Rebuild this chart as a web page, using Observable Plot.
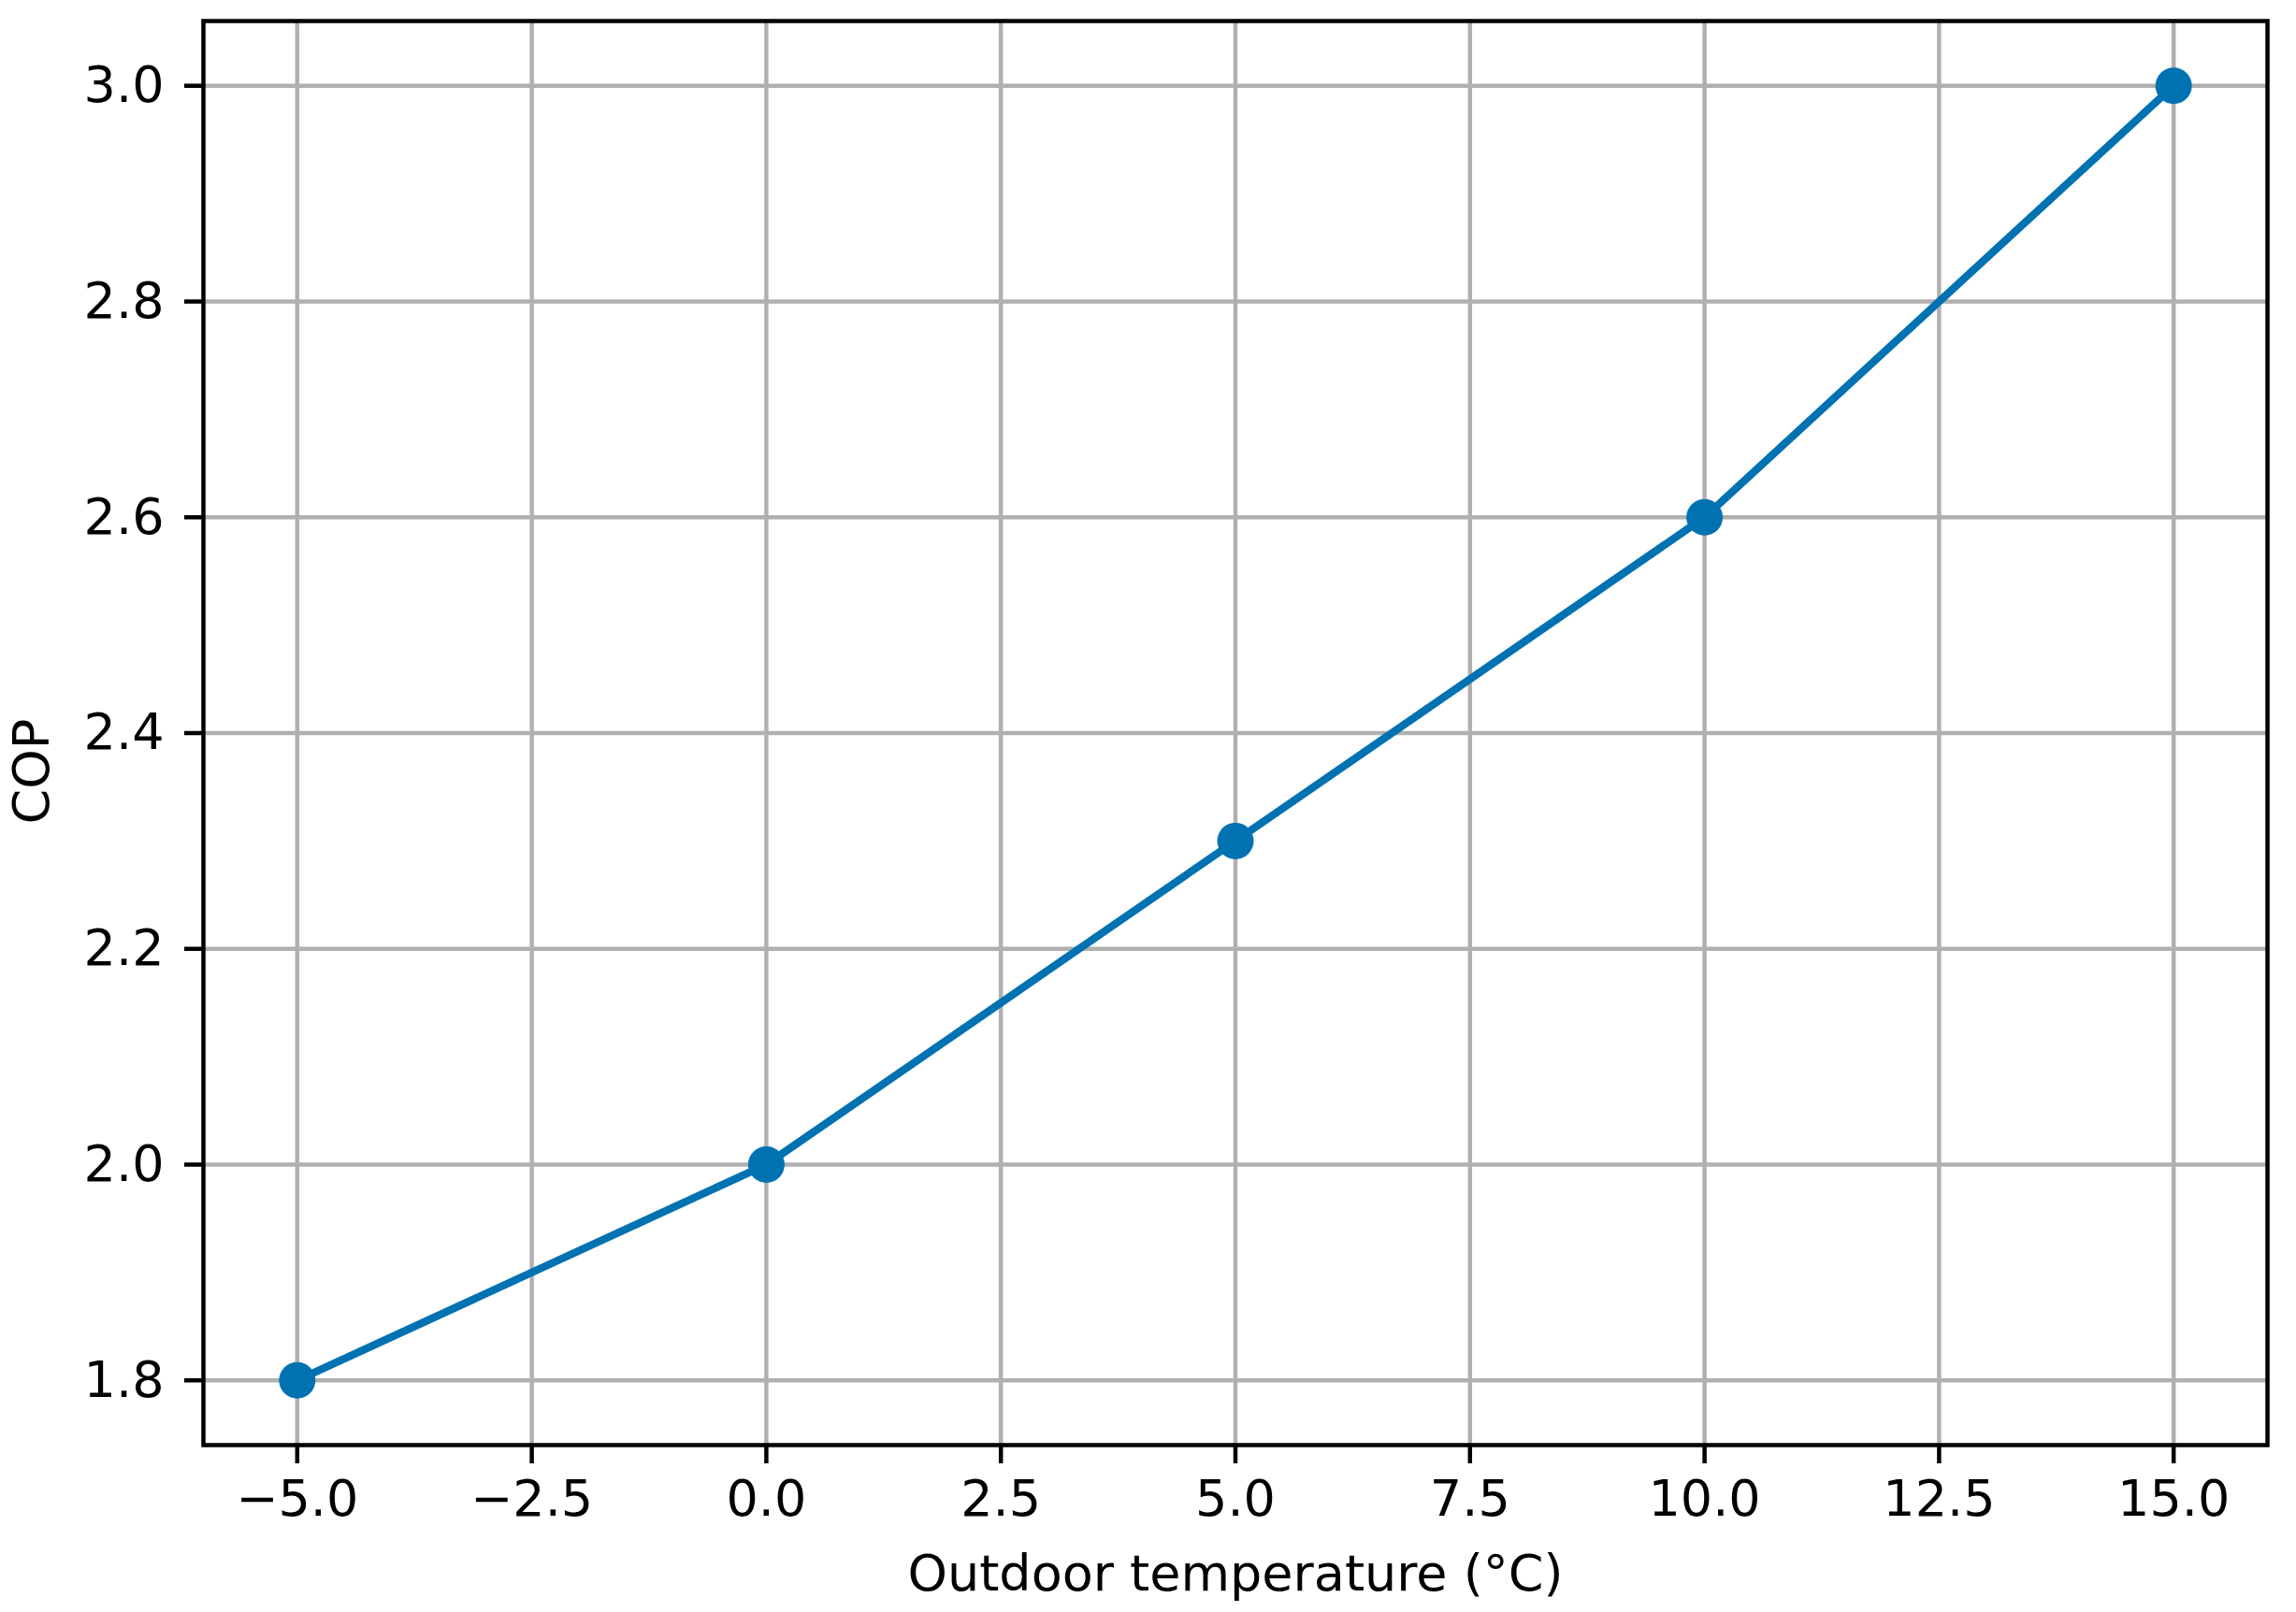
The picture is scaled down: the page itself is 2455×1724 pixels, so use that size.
<!DOCTYPE html>
<html>
<head>
<meta charset="utf-8">
<script src="https://cdn.jsdelivr.net/npm/d3@7"></script>
<script src="https://cdn.jsdelivr.net/npm/@observablehq/plot@0.6"></script>
<style>
  html, body { margin: 0; padding: 0; background: white; }
  svg { display: block; }
</style>
</head>
<body>
<script>
// Data
const temperatures = [-5, 0, 5, 10, 15];
const copValues = [1.8, 2.0, 2.3, 2.6, 3.0];
const xTicks = [-5, -2.5, 0, 2.5, 5, 7.5, 10, 12.5, 15];
const yTicks = [1.8, 2.0, 2.2, 2.4, 2.6, 2.8, 3.0];
const xLabel = "Outdoor temperature (°C)";
const yLabel = "COP";

const rows = temperatures.map((t, i) => ({ t, cop: copValues[i] }));
const fmt = d3.format(".1f");
const blue = "#0072B2";
const gridColor = "#b0b0b0";

const chart = Plot.plot({
  width: 2455,
  height: 1724,
  marginLeft: 217,
  marginRight: 31,
  marginTop: 22,
  marginBottom: 179,
  style: { fontFamily: "DejaVu Sans", fontSize: "54px", background: "white", color: "black" },
  x: { domain: [-6, 16] },
  y: { domain: [1.74, 3.06] },
  marks: [
    Plot.gridX(xTicks, { stroke: gridColor, strokeOpacity: 1, strokeWidth: 4.5 }),
    Plot.gridY(yTicks, { stroke: gridColor, strokeOpacity: 1, strokeWidth: 4.5 }),
    Plot.line(rows, { x: "t", y: "cop", stroke: blue, strokeWidth: 8.3 }),
    Plot.dot(rows, { x: "t", y: "cop", fill: blue, r: 19.5, stroke: "none" }),
    Plot.frame({ stroke: "black", strokeWidth: 4.5 }),
    Plot.axisX(xTicks, { tickFormat: fmt, tickSize: 20, tickPadding: 17, strokeWidth: 4.5, fontSize: 54, label: null }),
    Plot.axisY(yTicks, { tickFormat: fmt, tickSize: 20, tickPadding: 22, strokeWidth: 4.5, fontSize: 54, label: null }),
    Plot.text([xLabel], { text: d => d, frameAnchor: "bottom", dy: 138, lineAnchor: "middle", fontSize: 54, fill: "black" }),
    Plot.text([yLabel], { text: d => d, frameAnchor: "left", textAnchor: "middle", dx: -183, dy: 41, rotate: -90, lineAnchor: "middle", fontSize: 54, fill: "black" })
  ]
});
document.body.appendChild(chart);
</script>
</body>
</html>
